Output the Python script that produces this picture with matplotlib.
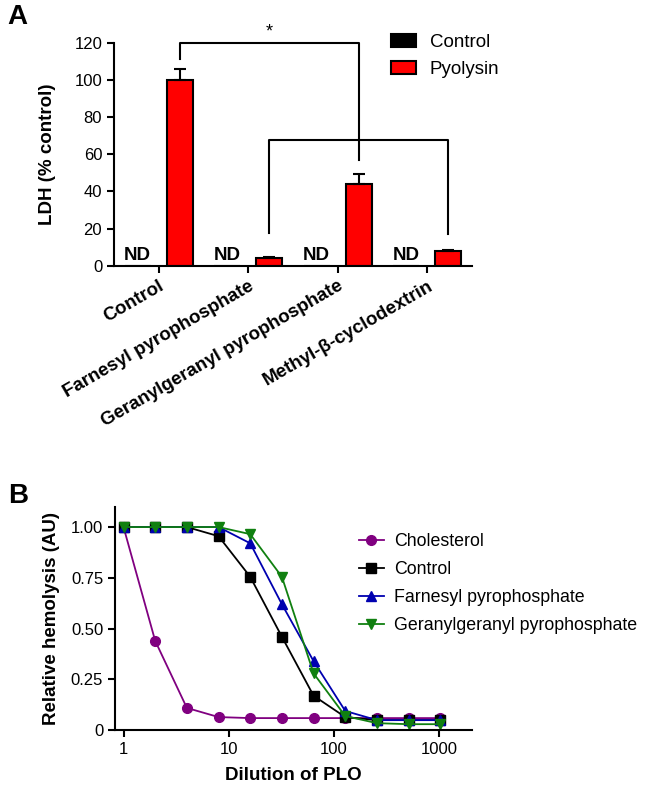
import matplotlib
matplotlib.use('Agg')
import matplotlib.pyplot as plt
import numpy as np
from matplotlib.patches import Patch

plt.rcParams['font.family'] = ['Liberation Sans', 'DejaVu Sans']
plt.rcParams['font.size'] = 12

# panel A data
groups = ['Control', 'Farnesyl pyrophosphate', 'Geranylgeranyl pyrophosphate', 'Methyl-β-cyclodextrin']
ctrl_vals = [0, 0, 0, 0]
pyo_vals = [100, 3.9, 44, 8]
pyo_err = [5.7, 0.6, 5.5, 0.7]

# panel B data
dilution = [1, 2, 4, 8, 16, 32, 64, 128, 256, 512, 1024]
cholesterol = [1.0, 0.44, 0.11, 0.065, 0.06, 0.06, 0.06, 0.06, 0.06, 0.06, 0.06]
control = [1.0, 1.0, 1.0, 0.955, 0.755, 0.46, 0.17, 0.065, 0.05, 0.05, 0.05]
fpp = [1.0, 1.0, 1.0, 1.0, 0.92, 0.62, 0.34, 0.095, 0.05, 0.05, 0.05]
ggpp = [1.0, 1.0, 1.0, 1.0, 0.965, 0.755, 0.28, 0.07, 0.035, 0.03, 0.03]

lab = 13.5

fig = plt.figure(figsize=(6.49, 7.85), dpi=100)

# ---------------- A ----------------
ax = fig.add_axes([0.1757, 0.6615, 0.5516, 0.2841])
x = np.arange(len(groups))
w = 0.29
off = 0.235
ax.bar(x - off, ctrl_vals, w, color='black', edgecolor='black', linewidth=1.5)
ax.bar(x + off, pyo_vals, w, color='#ff0000', edgecolor='black', linewidth=1.5)
ax.errorbar(x + off, pyo_vals, yerr=[np.zeros(4), pyo_err], fmt='none',
            ecolor='black', elinewidth=1.5, capsize=4.5, capthick=1.5)
for xi in x:
    ax.text(xi - off, 1.0, 'ND', ha='center', va='bottom', fontweight='bold', fontsize=lab)

ax.set_xlim(-0.5, 3.5)
ax.set_ylim(0, 120)
ax.set_yticks([0, 20, 40, 60, 80, 100, 120])
ax.set_xticks(x)
ax.set_xticklabels(groups, rotation=30, ha='right', rotation_mode='anchor',
                   fontweight='bold', fontsize=lab)
ax.set_ylabel('LDH (% control)', fontweight='bold', fontsize=lab, labelpad=13)
for s in ['top', 'right']:
    ax.spines[s].set_visible(False)
for s in ['left', 'bottom']:
    ax.spines[s].set_linewidth(1.5)
ax.tick_params(width=1.5, length=5)

# significance brackets
b1 = 120
b2 = 67.7
kw = dict(color='black', lw=1.5, clip_on=False)
ax.plot([x[0] + off, x[0] + off, x[2] + off, x[2] + off], [111, b1, b1, 57], **kw)
ax.plot([x[1] + off, x[1] + off, x[3] + off, x[3] + off], [17.5, b2, b2, 17], **kw)
ax.text((x[0] + x[2]) / 2 + off, b1 + 1.0, '*', ha='center', va='bottom', fontsize=13)

fig.legend(handles=[Patch(facecolor='black', edgecolor='black', lw=1.5, label='Control'),
                    Patch(facecolor='#ff0000', edgecolor='black', lw=1.5, label='Pyolysin')],
           loc='upper left', bbox_to_anchor=(0.603, 0.957), frameon=False,
           handlelength=1.3, handleheight=0.75, handletextpad=0.75, labelspacing=0.5,
           borderaxespad=0, borderpad=0, fontsize=lab)

fig.text(0.012, 0.995, 'A', fontsize=20, fontweight='bold', va='top')

# ---------------- B ----------------
bx = fig.add_axes([0.1772, 0.0697, 0.5501, 0.2848])
bx.plot(dilution, cholesterol, '-o', color='#800080', ms=7, lw=1.3, label='Cholesterol')
bx.plot(dilution, control, '-s', color='black', ms=7, lw=1.3, label='Control')
bx.plot(dilution, fpp, '-^', color='#0000b0', ms=7, lw=1.3, label='Farnesyl pyrophosphate')
bx.plot(dilution, ggpp, '-v', color='#108010', ms=7, lw=1.3, label='Geranylgeranyl pyrophosphate')
bx.set_xscale('log')
bx.set_xlim(0.83, 2050)
bx.set_ylim(0, 1.1)
bx.set_xticks([1, 10, 100, 1000])
bx.set_xticklabels(['1', '10', '100', '1000'])
bx.minorticks_off()
bx.set_yticks([0, 0.25, 0.5, 0.75, 1.0])
bx.set_yticklabels(['0', '0.25', '0.50', '0.75', '1.00'])
bx.set_xlabel('Dilution of PLO', fontweight='bold', fontsize=lab, labelpad=7)
bx.set_ylabel('Relative hemolysis (AU)', fontweight='bold', fontsize=lab, labelpad=8)
for s in ['top', 'right']:
    bx.spines[s].set_visible(False)
for s in ['left', 'bottom']:
    bx.spines[s].set_linewidth(1.5)
bx.tick_params(width=1.5, length=5)
fig.legend(*bx.get_legend_handles_labels(), loc='upper left',
           bbox_to_anchor=(0.553, 0.321), frameon=False, handlelength=1.4,
           handletextpad=0.6, labelspacing=0.62, borderaxespad=0, borderpad=0, fontsize=12.8)

fig.text(0.012, 0.385, 'B', fontsize=20, fontweight='bold', va='top')

fig.savefig('out.png', dpi=100)
